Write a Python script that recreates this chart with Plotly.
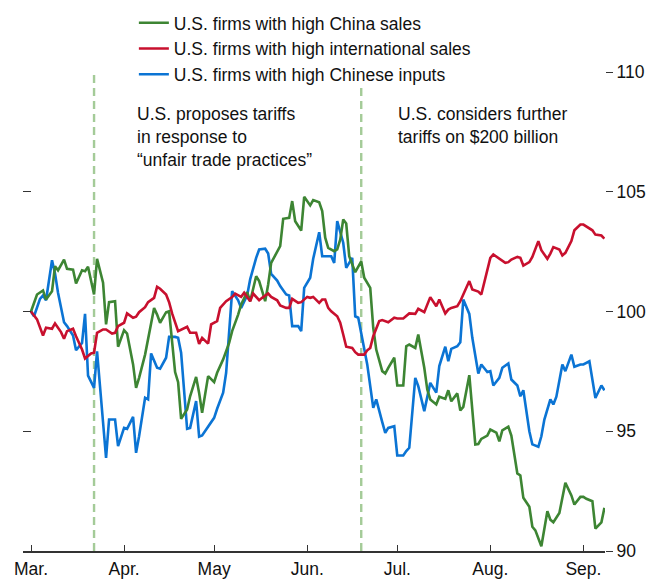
import pandas as pd
import plotly.graph_objects as go

START = "2018-03-01"

# days since 1 March 2018, index (1 March 2018 = 100)
china_days = [0, 2, 4, 5, 7, 8, 9, 11, 12, 14, 15, 17, 18, 19, 21, 22, 24, 25, 26, 28, 29, 31, 32, 34, 35, 36,
              38, 39, 41, 42, 43, 45, 46, 48, 49, 50, 52, 53, 55, 56, 57, 59, 61, 62, 64, 66, 67, 69, 70, 72,
              73, 75, 76, 78, 79, 80, 82, 83, 84, 86, 87, 88, 90, 91, 93, 94, 96, 97, 98, 99, 101, 102, 103,
              104, 105, 106, 108, 110, 111, 113, 114, 115, 117, 118, 119, 121, 122, 124, 125, 126, 128, 129,
              131, 132, 133, 135, 136, 138, 139, 140, 142, 143, 144, 146, 148, 149, 150, 152, 153, 155, 156,
              157, 159, 160, 162, 163, 164, 166, 167, 168, 170, 172, 173, 174, 176, 177, 178, 180, 181, 183,
              184, 185, 187, 188, 190, 191]
china_vals = [100.0, 100.71, 100.88, 100.50, 100.85, 101.89, 101.72, 102.17, 101.78, 101.75, 101.17, 101.72,
              101.68, 101.87, 100.71, 102.20, 101.20, 99.46, 100.39, 100.43, 98.53, 99.22, 99.08, 97.79, 96.81,
              97.23, 98.20, 98.83, 100.15, 99.87, 99.53, 99.97, 100.01, 97.47, 97.05, 95.52, 95.91, 96.46,
              97.27, 96.60, 95.77, 97.30, 97.05, 97.44, 98.00, 98.69, 99.18, 99.87, 100.29, 100.81, 100.43,
              101.47, 101.27, 100.43, 101.13, 102.03, 102.52, 102.73, 103.87, 103.91, 104.61, 103.77, 103.38,
              104.79, 104.43, 104.65, 104.56, 104.19, 103.08, 102.66, 102.52, 102.59, 103.00, 103.84, 103.67,
              102.31, 101.64, 102.09, 101.41, 100.99, 99.32, 98.41, 97.51, 97.41, 97.65, 98.07, 96.91, 96.91,
              98.55, 98.62, 98.48, 99.04, 97.65, 96.74, 96.33, 96.12, 96.44, 96.35, 96.71, 96.25, 96.58, 95.87,
              96.02, 97.34, 94.45, 94.47, 94.68, 94.82, 95.07, 94.94, 94.58, 95.04, 95.19, 94.82, 93.24, 93.15,
              92.22, 91.85, 91.01, 90.86, 90.20, 91.66, 91.31, 91.20, 91.59, 92.22, 92.85, 92.32, 91.94, 92.26,
              92.26, 92.18, 92.08, 90.93, 91.20, 91.80]

intl_days = [0, 2, 4, 5, 7, 8, 10, 11, 12, 14, 15, 17, 18, 20, 21, 22, 24, 25, 27, 28, 29, 31, 32, 34, 35, 36,
             38, 39, 41, 42, 43, 45, 46, 47, 49, 50, 52, 53, 55, 56, 57, 59, 60, 62, 63, 65, 67, 68, 70, 71, 73,
             74, 76, 77, 79, 80, 82, 83, 85, 86, 87, 89, 90, 92, 93, 94, 96, 97, 98, 99, 100, 102, 103, 104, 105,
             107, 108, 109, 111, 112, 113, 114, 116, 117, 119, 121, 122, 124, 125, 126, 128, 129, 131, 132, 133,
             135, 136, 138, 139, 140, 142, 143, 144, 146, 147, 149, 150, 152, 153, 154, 156, 158, 159, 160, 162,
             163, 164, 166, 167, 169, 170, 172, 173, 174, 176, 177, 178, 180, 181, 183, 184, 185, 187, 188, 190,
             191]
intl_vals = [100.0, 99.67, 99.00, 99.32, 99.28, 99.50, 99.14, 98.86, 99.18, 99.28, 98.97, 98.41, 98.04, 98.25,
             98.28, 99.11, 99.25, 99.25, 99.08, 99.11, 99.39, 99.53, 99.92, 99.74, 99.78, 99.97, 100.18, 100.39,
             100.57, 101.03, 100.95, 100.71, 100.39, 99.92, 99.18, 99.25, 99.36, 99.11, 99.11, 98.65, 98.90,
             98.66, 99.46, 99.60, 100.15, 100.43, 100.60, 100.75, 100.61, 100.78, 100.43, 100.75, 100.47,
             100.57, 100.75, 100.61, 100.47, 100.25, 100.15, 100.15, 100.53, 100.36, 100.39, 100.61, 100.57,
             100.61, 100.36, 100.50, 100.50, 100.15, 100.01, 99.80, 99.53, 99.04, 98.53, 98.48, 98.30, 98.20,
             98.20, 98.38, 98.48, 98.97, 99.60, 99.64, 99.55, 99.74, 99.71, 99.71, 99.80, 99.92, 99.90, 100.11,
             99.97, 100.29, 100.60, 100.22, 100.50, 99.92, 100.08, 100.15, 100.22, 100.43, 100.71, 101.27,
             100.92, 100.83, 100.71, 101.82, 102.24, 102.38, 102.20, 102.03, 102.06, 102.17, 102.28, 102.24,
             101.92, 102.06, 102.28, 102.94, 102.56, 102.20, 102.42, 102.69, 102.59, 102.34, 102.45, 102.94,
             103.39, 103.63, 103.63, 103.54, 103.39, 103.21, 103.17, 103.04]

inputs_days = [0, 1, 3, 4, 5, 7, 8, 9, 11, 12, 14, 15, 17, 18, 19, 21, 22, 25, 26, 28, 29, 31, 32, 34, 35, 36,
               38, 39, 40, 42, 43, 45, 46, 48, 49, 50, 52, 53, 55, 56, 57, 59, 61, 62, 64, 65, 66, 67, 69, 70,
               72, 73, 75, 76, 78, 79, 80, 82, 83, 85, 86, 87, 89, 90, 91, 93, 94, 96, 97, 98, 100, 101, 102,
               104, 105, 107, 108, 109, 111, 112, 114, 115, 117, 118, 119, 121, 122, 124, 125, 126, 128, 129,
               131, 132, 133, 135, 136, 138, 139, 140, 142, 143, 144, 146, 147, 149, 150, 152, 153, 154, 156,
               157, 159, 160, 162, 163, 164, 166, 167, 169, 170, 171, 173, 174, 175, 177, 178, 180, 181, 183,
               184, 186, 187, 188, 190, 191]
inputs_vals = [100.0, 99.80, 100.53, 100.67, 100.47, 102.14, 101.59, 100.78, 99.55, 99.39, 99.00, 98.38, 98.69,
               99.90, 97.32, 96.81, 98.34, 93.89, 95.49, 95.49, 94.38, 95.14, 95.10, 95.60, 94.10, 94.79, 96.40,
               96.33, 98.25, 97.65, 97.61, 98.07, 98.94, 98.94, 98.90, 98.28, 95.10, 95.14, 96.26, 94.77, 94.82,
               95.21, 95.56, 95.94, 96.61, 97.44, 99.25, 100.85, 100.47, 100.15, 100.67, 101.34, 102.24, 102.59,
               102.62, 102.42, 101.57, 101.29, 101.06, 100.71, 100.67, 99.39, 99.39, 99.18, 100.99, 101.41,
               102.20, 103.31, 102.31, 102.31, 102.31, 102.03, 103.77, 102.87, 101.82, 102.24, 99.80, 99.74,
               98.34, 97.79, 95.98, 96.33, 95.38, 94.93, 95.14, 95.21, 93.99, 93.99, 94.17, 94.31, 97.23, 96.88,
               95.84, 96.46, 97.02, 96.61, 97.72, 98.53, 97.92, 98.44, 98.55, 98.72, 100.50, 99.90, 98.90, 97.41,
               97.79, 97.47, 97.51, 96.91, 97.23, 97.65, 97.83, 97.16, 96.91, 96.46, 96.71, 95.00, 94.45, 94.35,
               94.79, 95.49, 96.33, 96.12, 96.44, 97.79, 97.51, 98.20, 97.69, 97.79, 97.79, 97.92, 97.09, 96.39,
               96.91, 96.71]

series_names = ["U.S. firms with high China sales",
                "U.S. firms with high international sales",
                "U.S. firms with high Chinese inputs"]
series_colors = ["#3d8533", "#c8102e", "#0b74d4"]

month_ticks = ["2018-03-01", "2018-04-01", "2018-05-01", "2018-06-01", "2018-07-01", "2018-08-01", "2018-09-01"]
month_labels = ["Mar.", "Apr.", "May", "Jun.", "Jul.", "Aug.", "Sep."]

event_dates = ["2018-03-22", "2018-06-19"]
event_tops = [110.1, 109.4]
event_texts = ["U.S. proposes tariffs<br>in response to<br>\u201cunfair trade practices\u201d",
               "U.S. considers further<br>tariffs on $200 billion"]

y_ticks = [90, 95, 100, 105, 110]


def to_dates(days):
    return pd.Timestamp(START) + pd.to_timedelta(days, unit="D")


FONT = "Liberation Sans, Arial, Helvetica, sans-serif"
FS = 17.5

fig = go.Figure()
data = [(china_days, china_vals), (intl_days, intl_vals), (inputs_days, inputs_vals)]
order = [2, 1, 0]  # draw blue, red, then green on top
for i in order:
    d, v = data[i]
    fig.add_trace(go.Scatter(
        x=to_dates(d), y=v, mode="lines", name=series_names[i],
        line=dict(color=series_colors[i], width=2.6),
        legendrank=i + 1,
        yaxis="y2" if i == 1 else "y",
    ))

for dt, top in zip(event_dates, event_tops):
    fig.add_shape(type="line", xref="x", yref="y", x0=dt, x1=dt, y0=90, y1=top,
                  line=dict(color="#a4cb98", width=2.4, dash="8px,5px"), layer="below")

fig.add_annotation(xref="paper", yref="paper", x=0.1926, y=0.937, xanchor="left", yanchor="top",
                   text=event_texts[0], showarrow=False, align="left",
                   font=dict(family=FONT, size=FS, color="#111"))
fig.add_annotation(xref="paper", yref="paper", x=0.641, y=0.937, xanchor="left", yanchor="top",
                   text=event_texts[1], showarrow=False, align="left",
                   font=dict(family=FONT, size=FS, color="#111"))

x0 = pd.Timestamp(START) - pd.Timedelta(hours=64)
x1 = pd.Timestamp(START) + pd.Timedelta(hours=191.2 * 24)

fig.update_layout(
    width=649, height=579,
    margin=dict(l=23, r=44, t=72, b=28, autoexpand=False),
    paper_bgcolor="white", plot_bgcolor="white",
    font=dict(family=FONT, size=FS, color="#111"),
    showlegend=True,
    legend=dict(x=0.1905, y=1.14, xanchor="left", yanchor="top", bgcolor="rgba(0,0,0,0)",
                font=dict(family=FONT, size=FS, color="#111"), tracegroupgap=0),
    xaxis=dict(type="date", range=[x0, x1], tickvals=month_ticks, ticktext=month_labels,
               ticks="inside", ticklen=6, tickwidth=1.3, tickcolor="#333", ticklabelstandoff=1,
               showline=True, linecolor="#333", linewidth=1.5, showgrid=False, zeroline=False,
               tickfont=dict(family=FONT, size=FS, color="#111")),
    yaxis=dict(range=[90, 110], side="right", tickvals=y_ticks, ticks="outside", ticklen=7,
               tickwidth=1.3, tickcolor="#333", showline=False, showgrid=False, zeroline=False,
               tickfont=dict(family=FONT, size=FS, color="#111")),
    yaxis2=dict(range=[90, 110], side="left", overlaying="y", tickvals=y_ticks[1:], ticks="inside",
                ticklen=8, tickwidth=1.3, tickcolor="#333", showticklabels=False, showline=False,
                showgrid=False, zeroline=False),
)

fig.write_html("out.html", config={"displayModeBar": False},
               post_script="document.body.style.margin='0';document.body.style.overflow='hidden';")
